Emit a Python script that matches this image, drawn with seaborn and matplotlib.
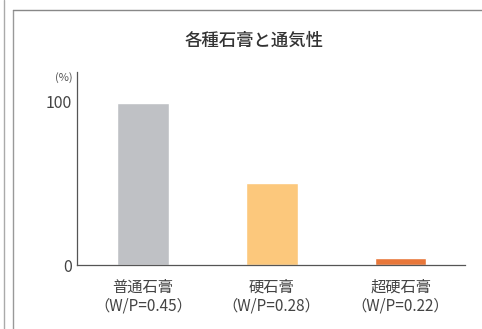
import matplotlib
matplotlib.use("Agg")
import matplotlib.pyplot as plt
import seaborn as sns
import pandas as pd
from matplotlib.lines import Line2D

# data
categories = ["普通石膏", "硬石膏", "超硬石膏"]
wp_ratio = ["（W/P=0.45）", "（W/P=0.28）", "（W/P=0.22）"]
permeability = [99, 50, 4.5]
bar_colors = ["#bfc1c5", "#fcc87c", "#e8773a"]

sns.set_style("white")
plt.rcParams["font.family"] = ["Noto Sans CJK JP", "DejaVu Sans"]

df = pd.DataFrame({"kind": categories, "value": permeability})

fig = plt.figure(figsize=(4.82, 3.29), dpi=100)
ax = fig.add_axes([0.160, 0.1945, 0.805, 0.5865])
sns.barplot(data=df, x="kind", y="value", hue="kind", palette=bar_colors,
            width=0.4, legend=False, ax=ax, saturation=1)

ax.set_xlim(-0.51, 2.5)
ax.set_ylim(0, 118)
ax.set_xlabel("")
ax.set_ylabel("")
for s in ["top", "right"]:
    ax.spines[s].set_visible(False)
for s in ["left", "bottom"]:
    ax.spines[s].set_color("#555555")
    ax.spines[s].set_linewidth(0.9)

ax.set_yticks([0, 100])
ax.set_yticklabels(["0", "100"], fontsize=11.5, color="#444444")
ax.tick_params(axis="y", direction="in", length=5, color="#555555", pad=4)

ax.set_xticks(range(len(categories)))
ax.set_xticklabels([f"{c}\n{w}" for c, w in zip(categories, wp_ratio)],
                   fontsize=11, color="#444444", linespacing=1.15)
ax.tick_params(axis="x", length=0, pad=10)
ax.set_xticks([0.5, 1.5], minor=True)
ax.tick_params(axis="x", which="minor", direction="in", length=5, color="#555555")

fig.text(0.527, 0.875, "各種石膏と通気性", ha="center", va="center",
         fontsize=12.5, fontweight="medium", color="#333333")
fig.text(0.150, 0.765, "(%)", ha="right", va="center", fontsize=8, color="#555555")

# page frame lines
fig.add_artist(Line2D([4 / 482, 4 / 482], [0, 1], color="#aaaaaa", lw=1))
fig.add_artist(Line2D([12.5 / 482, 12.5 / 482], [0, 1 - 10 / 329], color="#999999", lw=1))
fig.add_artist(Line2D([12.5 / 482, 1], [1 - 10 / 329, 1 - 10 / 329], color="#888888", lw=1))

fig.savefig("out.png", dpi=100)
